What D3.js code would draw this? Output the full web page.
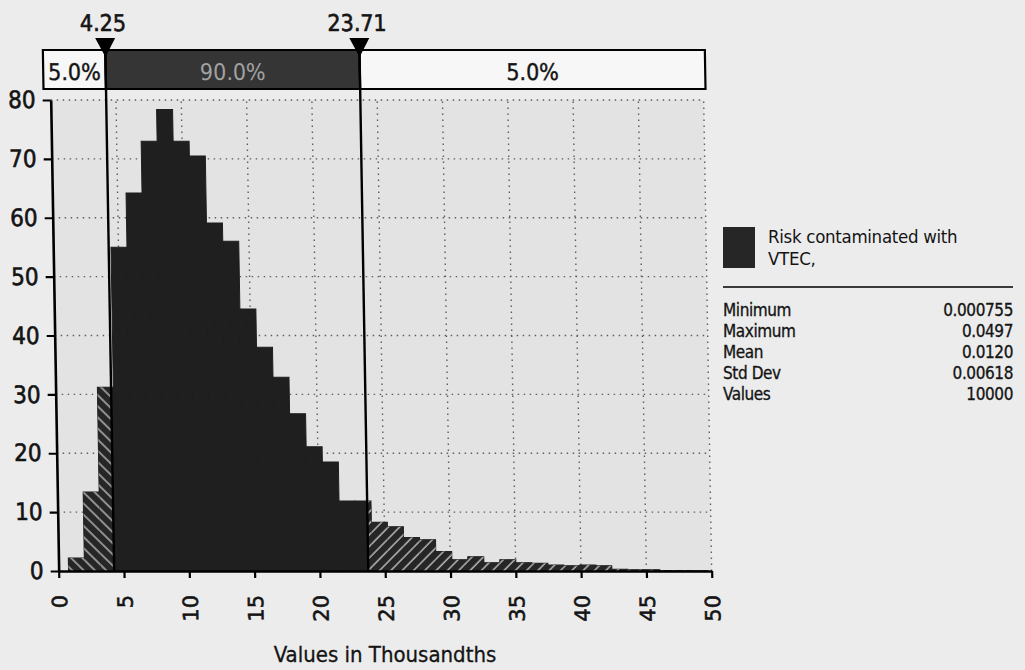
<!DOCTYPE html>
<meta charset="utf-8">
<html>
<head>
    <title>Risk contaminated with VTEC</title>
    <style>
        body {
            margin: 0;
            background: #ececec;
        }

        svg {
            display: block;
        }

        svg text {
            font-family: "DejaVu Sans Condensed", "DejaVu Sans", sans-serif;
            fill: #141414;
        }

        /* scanned labels look heavier than the plain font */
        .heavy {
            stroke: #141414;
            stroke-width: 0.6px;
        }
    </style>
    <script src="https://d3js.org/d3.v7.min.js"></script>
</head>
<body>
    <div id="chart-container"></div>
    <script>
        // histogram: 40 equal bins from the minimum to the maximum (values in thousandths)
        var binLow = 0.755, binHigh = 49.7, binCount = 40;
        var density = [2.2, 13.4, 31.2, 55.0, 64.2, 73.0, 78.4, 73.0, 70.5, 59.1,
            56.0, 44.5, 38.0, 32.9, 26.7, 21.1, 18.5, 11.9, 11.9, 8.3,
            7.5, 5.7, 5.3, 3.3, 1.9, 2.4, 1.4, 1.9, 1.4, 1.3,
            1.0, 0.9, 1.0, 0.9, 0.3, 0.2, 0.2, 0.1, 0.1, 0.05];

        var lowerMark = 4.25, upperMark = 23.71;
        var markLabels = ["4.25", "23.71"];
        var bandLabels = ["5.0%", "90.0%", "5.0%"];

        var xTicks = [0, 5, 10, 15, 20, 25, 30, 35, 40, 45, 50];
        var yTicks = [0, 10, 20, 30, 40, 50, 60, 70, 80];

        var seriesName = ["Risk contaminated with", "VTEC,"];
        var statNames = ["Minimum", "Maximum", "Mean", "Std Dev", "Values"];
        var statValues = ["0.000755", "0.0497", "0.0120", "0.00618", "10000"];

        var width = 1025, height = 670;

        var svg = d3.select("#chart-container")
            .append("svg")
            .attr("width", width)
            .attr("height", height);

        var defs = svg.append("defs");

        // hatch for the tails
        function hatch(id, angle) {
            var p = defs.append("pattern")
                .attr("id", id)
                .attr("patternUnits", "userSpaceOnUse")
                .attr("width", 8)
                .attr("height", 8)
                .attr("patternTransform", "rotate(" + angle + ")");
            p.append("rect").attr("width", 8).attr("height", 8).attr("fill", "#262626");
            p.append("line")
                .attr("x1", 1).attr("y1", 0).attr("x2", 1).attr("y2", 8)
                .attr("stroke", "#b4b4b4")
                .attr("stroke-width", 1.5);
        }
        hatch("hatchLeft", -45);
        hatch("hatchRight", 45);

        // the scan is slightly sheared, so the chart part is drawn with a small skew
        var chart = svg.append("g").attr("transform", "skewX(0.97)");

        var x = d3.scaleLinear().domain([0, 50]).range([49, 702]);
        var y = d3.scaleLinear().domain([0, 80]).range([571, 100]);

        // plot background
        chart.append("rect")
            .attr("x", x(0))
            .attr("y", y(80))
            .attr("width", x(50) - x(0))
            .attr("height", y(0) - y(80))
            .attr("fill", "#e3e3e3");

        // dotted grid
        chart.append("g")
            .selectAll("line")
            .data(xTicks.filter(d => d > 0))
            .enter().append("line")
            .attr("x1", d => x(d)).attr("x2", d => x(d))
            .attr("y1", y(0)).attr("y2", y(80))
            .attr("stroke", "#5e5e5e")
            .attr("stroke-width", 1.4)
            .attr("stroke-dasharray", "1.5,4.5");

        chart.append("g")
            .selectAll("line")
            .data(yTicks.filter(d => d > 0))
            .enter().append("line")
            .attr("x1", x(0)).attr("x2", x(50))
            .attr("y1", d => y(d)).attr("y2", d => y(d))
            .attr("stroke", "#5e5e5e")
            .attr("stroke-width", 1.4)
            .attr("stroke-dasharray", "1.5,4.5");

        // solid base for every bin, so no seams show between the pieces
        var binWidth = (binHigh - binLow) / binCount;
        var bins = density.map((v, i) => ({ a: binLow + i * binWidth, b: binLow + (i + 1) * binWidth, v: v }));

        chart.append("g")
            .selectAll("rect")
            .data(bins)
            .enter().append("rect")
            .attr("x", d => x(d.a))
            .attr("width", d => x(d.b) - x(d.a))
            .attr("y", d => y(d.v))
            .attr("height", d => y(0) - y(d.v))
            .attr("fill", "#1f1f1f")
            .attr("stroke", "#1f1f1f")
            .attr("stroke-width", 1);

        // lower and upper tails get the hatch
        var pieces = [];
        bins.forEach(function (d) {
            if (d.a < lowerMark) pieces.push({ a: d.a, b: Math.min(d.b, lowerMark), v: d.v, fill: "url(#hatchLeft)" });
            if (d.b > upperMark) pieces.push({ a: Math.max(d.a, upperMark), b: d.b, v: d.v, fill: "url(#hatchRight)" });
        });

        chart.append("g")
            .selectAll("rect")
            .data(pieces)
            .enter().append("rect")
            .attr("x", d => x(d.a))
            .attr("width", d => x(d.b) - x(d.a))
            .attr("y", d => y(d.v))
            .attr("height", d => y(0) - y(d.v))
            .attr("fill", d => d.fill);

        // axes
        var yAxis = chart.append("g")
            .attr("transform", "translate(" + x(0) + ",0)")
            .call(d3.axisLeft(y).tickValues(yTicks).tickSize(8).tickSizeOuter(0).tickPadding(7));
        yAxis.selectAll("text")
            .attr("class", "heavy")
            .style("font-size", "24px")
            .style("font-family", "'DejaVu Sans Condensed', 'DejaVu Sans', sans-serif");

        var xAxis = chart.append("g")
            .attr("transform", "translate(0," + y(0) + ")")
            .call(d3.axisBottom(x).tickValues(xTicks).tickSize(7).tickSizeOuter(0));
        xAxis.selectAll("text")
            .attr("class", "heavy")
            .attr("transform", "rotate(-90)")
            .attr("x", -24)
            .attr("y", 0)
            .attr("dy", "0.36em")
            .style("text-anchor", "end")
            .style("font-size", "21px")
            .style("font-family", "'DejaVu Sans', sans-serif");

        [yAxis, xAxis].forEach(function (a) {
            a.select(".domain").attr("stroke", "#000").attr("stroke-width", 2.6);
            a.selectAll(".tick line").attr("stroke", "#000").attr("stroke-width", 2.2);
            a.selectAll(".tick text").attr("fill", "#141414");
        });

        // delimiter band on top
        var bandTop = 50, bandBottom = 89;
        var bandEdges = [42, x(lowerMark), x(upperMark), x(50) + 2];
        var bandFill = ["#f7f7f7", "#353535", "#f7f7f7"];
        var bandText = ["#141414", "#a2a2a2", "#141414"];

        chart.append("g")
            .selectAll("rect")
            .data(bandLabels)
            .enter().append("rect")
            .attr("x", (d, i) => bandEdges[i])
            .attr("width", (d, i) => bandEdges[i + 1] - bandEdges[i])
            .attr("y", bandTop)
            .attr("height", bandBottom - bandTop)
            .attr("fill", (d, i) => bandFill[i])
            .attr("stroke", "#000")
            .attr("stroke-width", 2.2);

        chart.append("g")
            .selectAll("text")
            .data(bandLabels)
            .enter().append("text")
            .attr("x", (d, i) => (bandEdges[i] + bandEdges[i + 1]) / 2)
            .attr("y", 80)
            .attr("text-anchor", "middle")
            .style("font-size", "23px")
            .style("fill", (d, i) => bandText[i])
            .style("stroke", (d, i) => i == 1 ? "none" : "#141414")
            .style("stroke-width", "0.4px")
            .text(d => d);

        // delimiter lines, triangles and values
        var marks = [lowerMark, upperMark];

        chart.append("g")
            .selectAll("line")
            .data(marks)
            .enter().append("line")
            .attr("x1", d => x(d)).attr("x2", d => x(d))
            .attr("y1", 45).attr("y2", y(0))
            .attr("stroke", "#000")
            .attr("stroke-width", 2.4);

        chart.append("g")
            .selectAll("path")
            .data(marks)
            .enter().append("path")
            .attr("d", d => "M" + (x(d) - 10) + ",38L" + (x(d) + 10) + ",38L" + x(d) + ",57Z")
            .attr("fill", "#000");

        chart.append("g")
            .selectAll("text")
            .data(marks)
            .enter().append("text")
            .attr("class", "heavy")
            .attr("x", d => x(d) - 2)
            .attr("y", 31)
            .attr("text-anchor", "middle")
            .style("font-size", "23px")
            .text((d, i) => markLabels[i]);

        // axis title
        svg.append("text")
            .attr("x", 385)
            .attr("y", 662)
            .attr("text-anchor", "middle")
            .style("font-size", "22px")
            .style("stroke", "#141414")
            .style("stroke-width", "0.3px")
            .text("Values in Thousandths");

        // legend and statistics
        var legend = svg.append("g");

        legend.append("rect")
            .attr("x", 723).attr("y", 227)
            .attr("width", 32).attr("height", 41)
            .attr("fill", "#262626");

        legend.selectAll(".name")
            .data(seriesName)
            .enter().append("text")
            .attr("class", "name")
            .attr("x", 768)
            .attr("y", (d, i) => 243 + i * 22)
            .style("font-size", "18.5px")
            .style("letter-spacing", "-0.3px")
            .text(d => d);

        legend.append("line")
            .attr("x1", 723).attr("x2", 1013)
            .attr("y1", 287).attr("y2", 287)
            .attr("stroke", "#000")
            .attr("stroke-width", 1.6);

        legend.selectAll(".stat")
            .data(statNames)
            .enter().append("text")
            .attr("class", "stat")
            .attr("x", 723)
            .attr("y", (d, i) => 316 + i * 21)
            .style("font-size", "17px")
            .style("letter-spacing", "-0.4px")
            .style("stroke", "#141414")
            .style("stroke-width", "0.3px")
            .text(d => d);

        legend.selectAll(".val")
            .data(statValues)
            .enter().append("text")
            .attr("class", "val")
            .attr("x", 1013)
            .attr("y", (d, i) => 316 + i * 21)
            .attr("text-anchor", "end")
            .style("font-size", "17px")
            .style("letter-spacing", "-0.4px")
            .style("stroke", "#141414")
            .style("stroke-width", "0.3px")
            .text(d => d);
    </script>
</body>
</html>
